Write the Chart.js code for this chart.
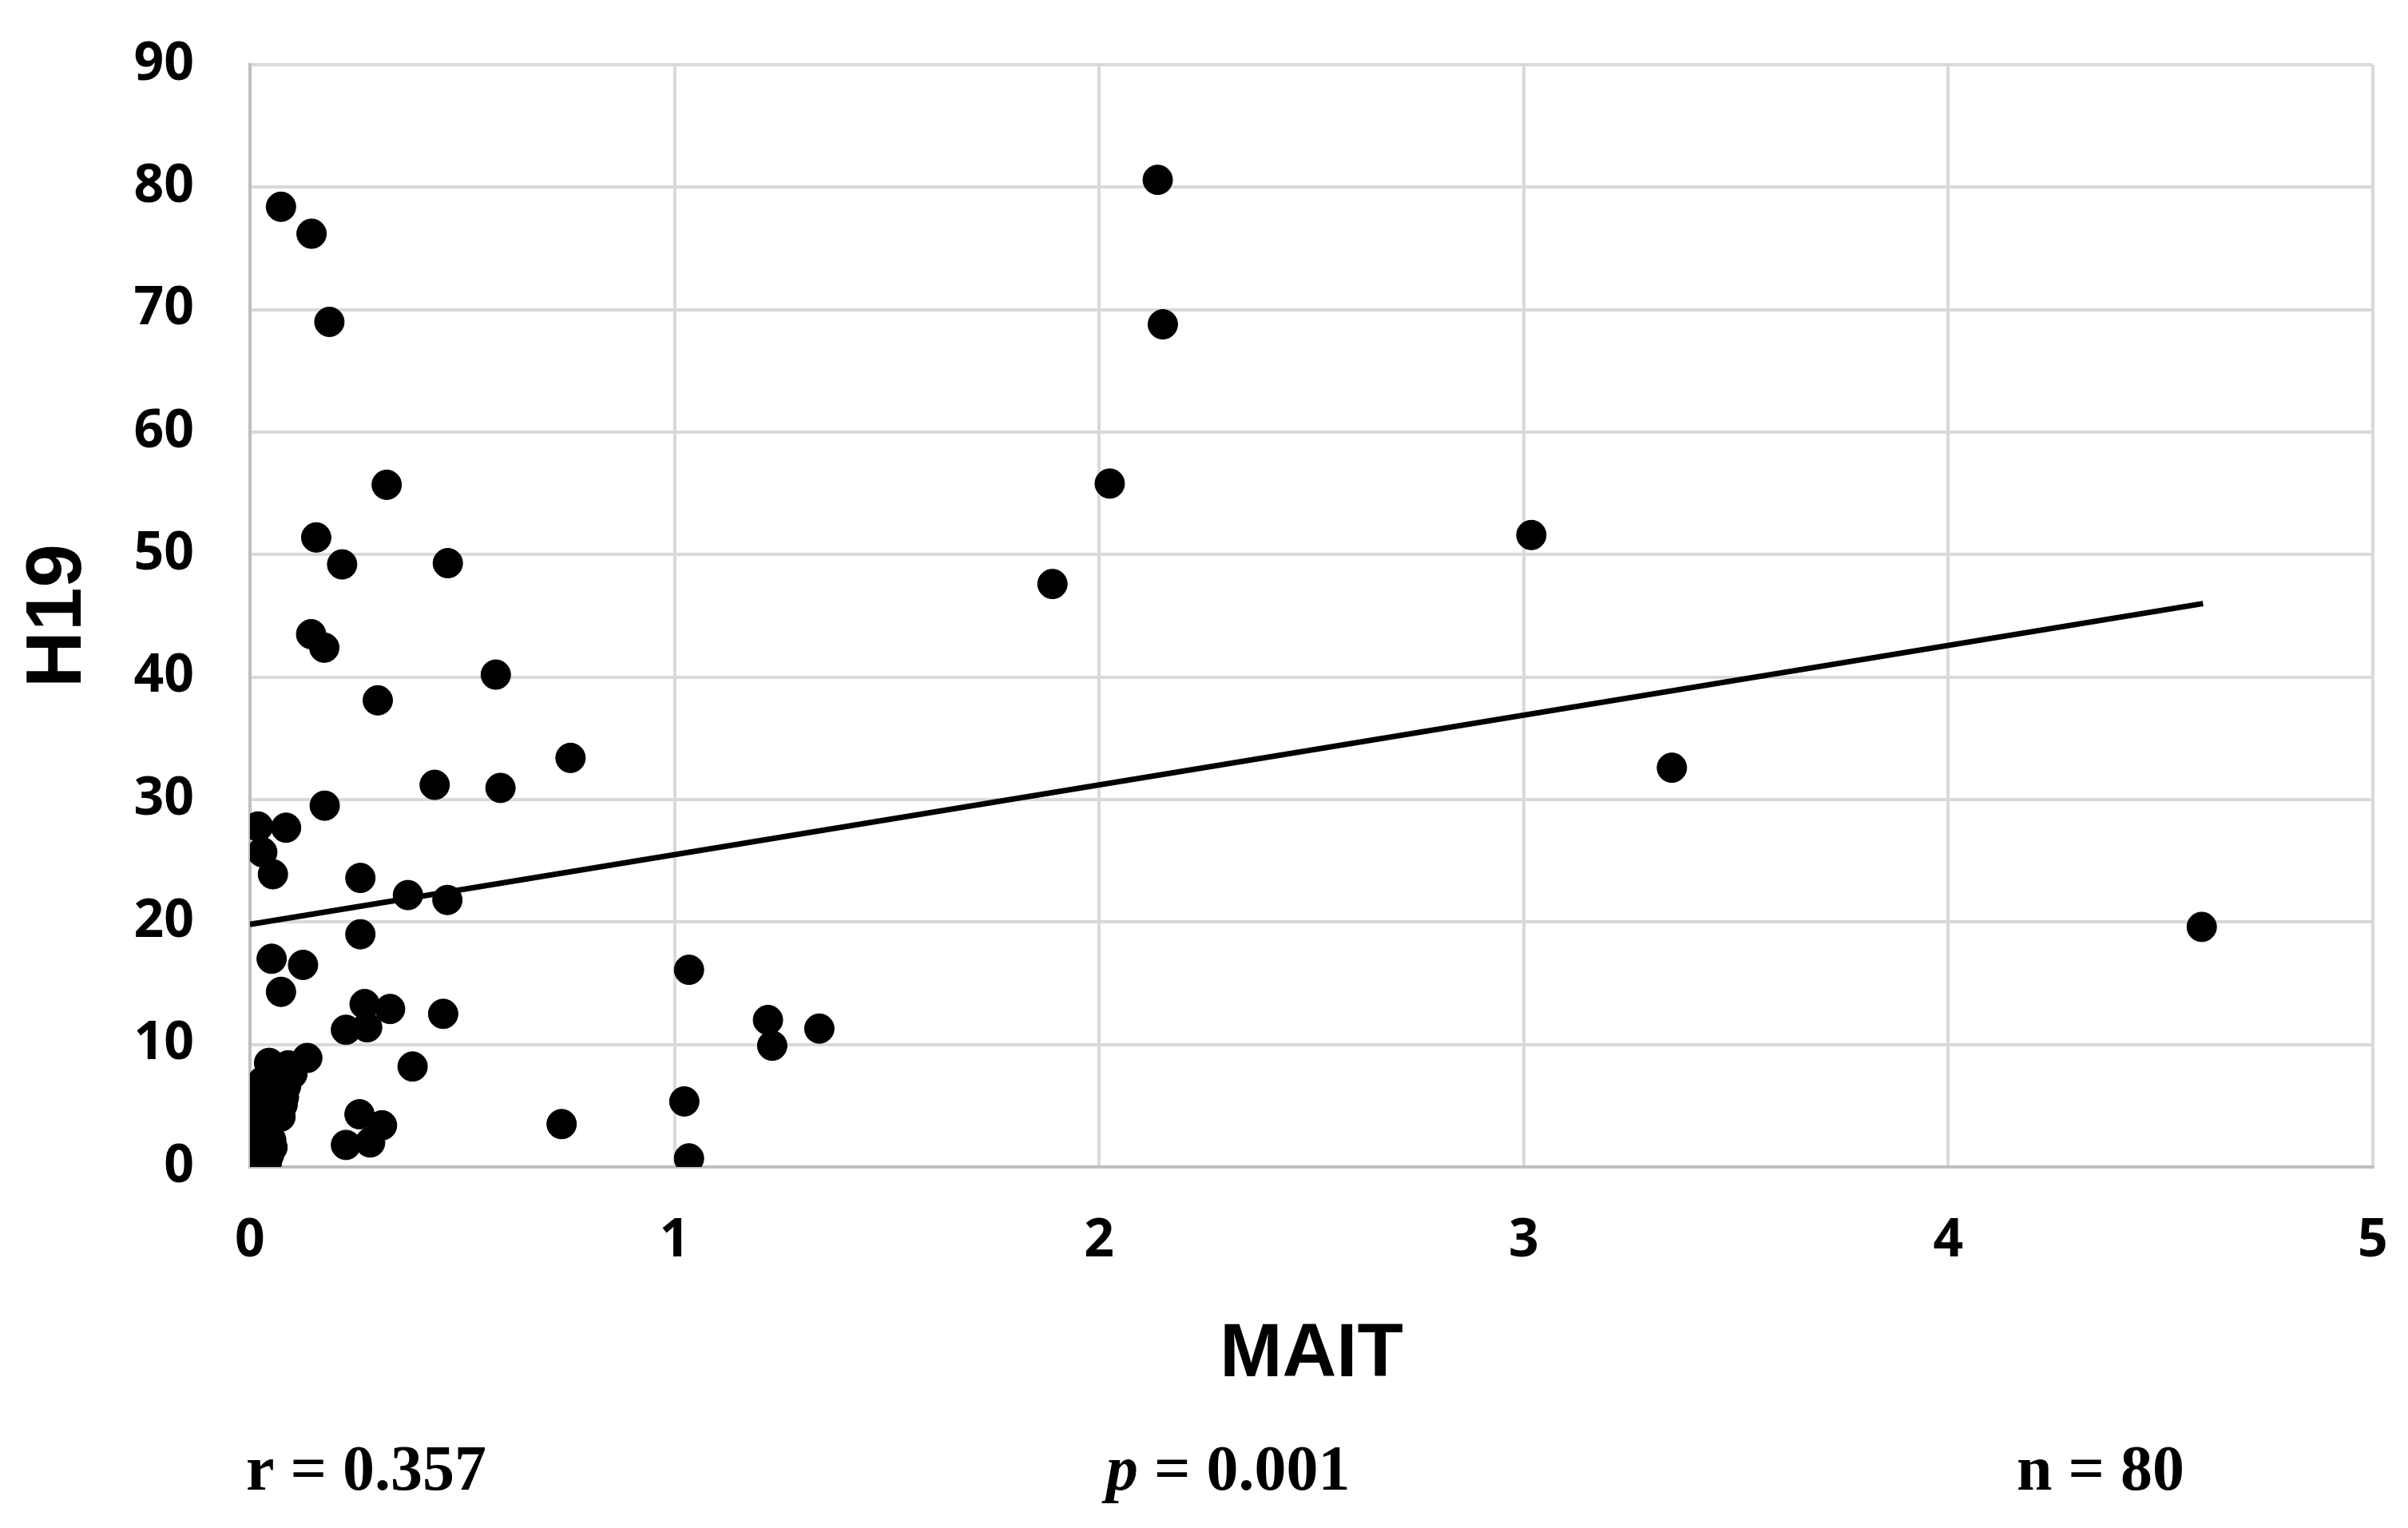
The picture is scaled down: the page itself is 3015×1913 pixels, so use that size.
<!DOCTYPE html>
<html>
<head>
<meta charset="utf-8">
<title>H19 vs MAIT</title>
<script src="https://cdn.jsdelivr.net/npm/chart.js@4.4.0/dist/chart.umd.min.js"></script>
<style>
  html, body { margin: 0; padding: 0; background: #ffffff; }
  #wrap { width: 3015px; height: 1913px; }
</style>
</head>
<body>
<div id="wrap"><canvas id="c" width="3015" height="1913"></canvas></div>
<script>
// ---- data ----
const maitValues = [
  0.073, 0.145, 0.187, 2.138, 2.15, 2.025, 0.322, 0.156, 0.217, 0.466,
  1.89, 3.018, 0.144, 0.175, 0.579, 0.301, 0.755, 3.349, 0.435, 0.59,
  0.176, 0.019, 0.085, 0.029, 0.054, 0.26, 0.372, 0.465, 4.597, 0.26,
  0.051, 0.125, 1.034, 0.073, 0.27, 0.33, 0.455, 0.226, 0.276, 1.22,
  1.23, 1.341, 0.383, 0.734, 1.023, 1.034, 0.258, 0.311, 0.226, 0.283,
  0.135, 0.045, 0.09, 0.10, 0.06, 0.085, 0.03, 0.05, 0.022, 0.065,
  0.08, 0.035, 0.077, 0.011, 0.05, 0.072, 0.03, 0.055, 0.015, 0.04,
  0.033, 0.05, 0.03, 0.053, 0.022, 0.045, 0.025, 0.019, 0.04, 0.035
];
const h19Values = [
  78.4, 76.2, 69.0, 80.6, 68.8, 55.8, 55.7, 51.4, 49.2, 49.3,
  47.6, 51.6, 43.5, 42.4, 40.2, 38.1, 33.4, 32.6, 31.2, 30.95,
  29.5, 27.8, 27.7, 25.7, 23.9, 23.6, 22.2, 21.8, 19.6, 19.0,
  17.0, 16.5, 16.1, 14.3, 13.3, 12.9, 12.5, 11.2, 11.4, 12.0,
  9.9, 11.3, 8.2, 3.5, 5.35, 0.7, 4.3, 3.4, 1.8, 2.0,
  8.9, 8.5, 8.3, 7.6, 7.6, 6.6, 7.0, 6.6, 6.0, 5.8,
  5.7, 5.3, 5.1, 4.5, 4.7, 4.1, 4.0, 3.8, 3.6, 3.2,
  2.5, 2.2, 1.8, 1.6, 1.2, 1.0, 0.6, 0.3, 0.4, 2.8
];
const trendX = [0, 4.6];
const trendY = [19.8, 46.0];
const xTicks = [0, 1, 2, 3, 4, 5];
const yTicks = [0, 10, 20, 30, 40, 50, 60, 70, 80, 90];
const xTitle = 'MAIT';
const yTitle = 'H19';
const statR = 'r = 0.357';
const statPSymbol = 'p';
const statPValue = ' = 0.001';
const statN = 'n = 80';

// ---- chart ----
const points = maitValues.map((x, i) => ({ x: x, y: h19Values[i] }));
const trend = trendX.map((x, i) => ({ x: x, y: trendY[i] }));

const tickFont = { family: '"Noto Sans", "Liberation Sans", sans-serif', weight: 'bold', size: 66 };

const statsPlugin = {
  id: 'stats',
  afterDraw(chart) {
    const c = chart.ctx;
    c.save();
    c.fillStyle = '#000';
    c.textBaseline = 'alphabetic';
    c.textAlign = 'left';
    const base = 1865;
    c.font = 'bold 80px "Liberation Serif", serif';
    c.fillText(statR, 308, base);
    c.font = 'italic bold 80px "Liberation Serif", serif';
    c.fillText(statPSymbol, 1385, base);
    const pw = c.measureText(statPSymbol).width;
    c.font = 'bold 80px "Liberation Serif", serif';
    c.fillText(statPValue, 1385 + pw, base);
    c.fillText(statN, 2525, base);
    c.restore();
  }
};

new Chart(document.getElementById('c'), {
  type: 'scatter',
  data: {
    datasets: [
      {
        type: 'line',
        data: trend,
        borderColor: '#000000',
        borderWidth: 7,
        pointRadius: 0,
        fill: false,
        tension: 0,
        order: 2
      },
      {
        data: points,
        backgroundColor: '#000000',
        borderColor: '#000000',
        borderWidth: 1,
        pointRadius: 18.5,
        pointHoverRadius: 18.5,
        order: 1
      }
    ]
  },
  options: {
    responsive: false,
    devicePixelRatio: 1,
    animation: false,
    events: [],
    layout: { padding: { left: 0, right: 44, top: 81, bottom: 0 } },
    plugins: { legend: { display: false }, tooltip: { enabled: false } },
    scales: {
      x: {
        type: 'linear',
        min: 0,
        max: 5,
        afterBuildTicks(s) { s.ticks = xTicks.map(v => ({ value: v })); },
        afterFit(s) { s.height = 452; s.paddingLeft = 0; s.paddingRight = 0; },
        ticks: { font: tickFont, color: '#000', padding: 54, maxRotation: 0 },
        grid: { color: '#d9d9d9', lineWidth: 4, drawTicks: false },
        border: { color: '#bfbfbf', width: 4 },
        title: {
          display: true,
          text: xTitle,
          color: '#000',
          font: { family: '"Liberation Sans", Arial, sans-serif', weight: 'bold', size: 94 },
          padding: { top: 0, bottom: 160 }
        }
      },
      y: {
        type: 'linear',
        min: 0,
        max: 90,
        afterBuildTicks(s) { s.ticks = yTicks.map(v => ({ value: v })); },
        afterFit(s) { s.width = 313; s.paddingTop = 0; s.paddingBottom = 0; },
        ticks: { font: tickFont, color: '#000', padding: 70 },
        grid: { color: '#d9d9d9', lineWidth: 4, drawTicks: false },
        border: { color: '#bfbfbf', width: 4 },
        title: {
          display: true,
          text: yTitle,
          color: '#000',
          font: { family: '"Liberation Sans", Arial, sans-serif', weight: 'bold', size: 98 },
          padding: { top: 15, bottom: 0 }
        }
      }
    }
  },
  plugins: [statsPlugin]
});
</script>
</body>
</html>
